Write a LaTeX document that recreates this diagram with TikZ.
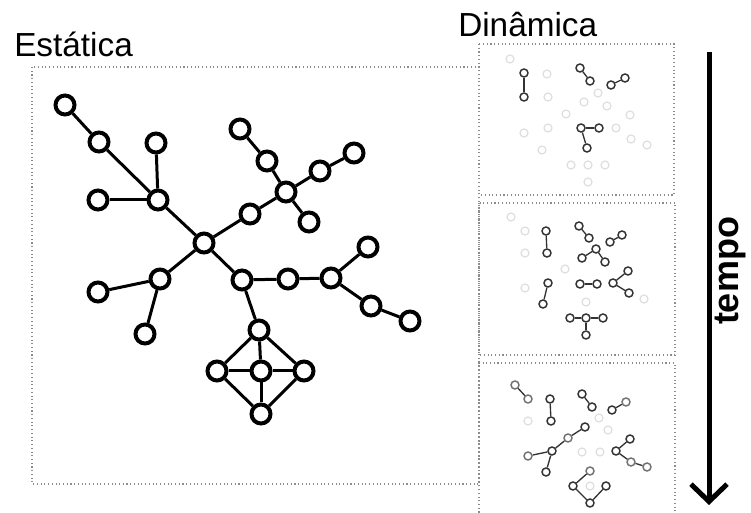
\documentclass[tikz,border=0pt]{standalone}
\usepackage{fontspec}
\setmainfont{Liberation Sans}
\usetikzlibrary{arrows.meta,positioning,shapes}

\begin{document}
\begin{tikzpicture}[
  x=0.75pt, y=-0.75pt,
  big/.style={circle, draw, fill=white, line width=3pt, minimum size=14.25pt, inner sep=0pt},
  small/.style={circle, draw=black!80, fill=white, line width=1.1pt, minimum size=6pt, inner sep=0pt},
  mid/.style={small, draw=black!55},
  ghost/.style={circle, draw=black!13, line width=0.9pt, minimum size=6pt, inner sep=0pt},
  thick edge/.style={draw, line width=2.25pt},
  thin edge/.style={draw=black!80, line width=1pt},
  frame/.style={draw=black!45, dotted, line width=0.8pt},
  title/.style={anchor=base west, inner sep=0pt, font=\fontsize{25}{30}\selectfont}
]
\useasboundingbox (0,0) rectangle (751,513);

% frames
\draw[frame] (32,67) rectangle (479,484);
\draw[frame] (479,44) rectangle (674,195);
\draw[frame] (479,203) rectangle (675,355);
\draw[frame] (479,520) -- (479,363) -- (675,363) -- (675,520);

\node[title] (lstat) at (14,57) {Estática};
\node[title] (ldyn) at (458,37) {Dinâmica};

% static network
\node[big] (a) at (65,105) {};
\node[big] (b) at (99,142) {};
\node[big] (c) at (156,143) {};
\node[big] (d) at (98,200) {};
\node[big] (e) at (158,200) {};
\node[big] (hub) at (204,243) {};
\node[big] (g) at (250,214) {};
\node[big] (h) at (240,129) {};
\node[big] (i) at (267,161) {};
\node[big] (j) at (286,192) {};
\node[big] (k) at (320,171) {};
\node[big] (l) at (354,153) {};
\node[big] (m) at (309,222) {};
\node[big] (n) at (242,280) {};
\node[big] (o) at (288,279) {};
\node[big] (p) at (331,278) {};
\node[big] (q) at (368,247) {};
\node[big] (r) at (371,306) {};
\node[big] (s) at (410,321) {};
\node[big] (y) at (98,292) {};
\node[big] (z) at (160,279) {};
\node[big] (aa) at (145,334) {};
\node[big] (top) at (259,330) {};
\node[big] (left) at (217,371) {};
\node[big] (mid) at (261,371) {};
\node[big] (right) at (304,371) {};
\node[big] (bot) at (261,414) {};

\foreach \u/\v in {a/b, b/e, c/e, d/e, e/hub, hub/g, g/j, j/i, i/h, j/k, k/l, j/m,
  hub/z, z/y, z/aa, hub/n, n/o, o/p, p/q, p/r, r/s, n/top,
  top/left, top/mid, top/right, left/mid, mid/right, left/bot, mid/bot, right/bot}
  \path[thick edge] (\u) -- (\v);

% dynamic snapshots: inactive nodes
\foreach \px/\py [count=\k] in {510/59, 547/74, 548/97, 598/93, 584/102, 607/106,
  566/114, 630/115, 524/133, 548/128, 616/128, 631/139, 647/145, 542/150,
  571/165, 588/165, 605/165, 588/182,
  511/217, 525/231, 525/253, 565/269, 525/288, 586/302, 644/299,
  528/421, 599/418, 608/430, 582/452, 600/452, 590/486}
  \node[ghost] (off\k) at (\px,\py) {};

% snapshot 1
\node[small] (u1) at (524,73) {};
\node[small] (u2) at (524,97) {};
\node[small] (u3) at (580,68) {};
\node[small] (u4) at (590,81) {};
\node[small] (u5) at (611,85) {};
\node[small] (u6) at (625,78) {};
\node[small] (u7) at (581,128) {};
\node[small] (u8) at (599,128) {};
\node[small] (u9) at (587,148) {};
\foreach \u/\v in {u1/u2, u3/u4, u5/u6, u7/u8, u7/u9}
  \path[thin edge] (\u) -- (\v);

% snapshot 2
\node[small] (v1) at (546,231) {};
\node[small] (v2) at (547,253) {};
\node[small] (v3) at (579,226) {};
\node[small] (v4) at (589,238) {};
\node[small] (v5) at (610,242) {};
\node[small] (v6) at (622,235) {};
\node[small] (v7) at (582,258) {};
\node[small] (v8) at (596,249) {};
\node[small] (v9) at (605,262) {};
\node[small] (v10) at (548,283) {};
\node[small] (v11) at (543,304) {};
\node[small] (v12) at (580,284) {};
\node[small] (v13) at (597,284) {};
\node[small] (v14) at (613,283) {};
\node[small] (v15) at (628,271) {};
\node[small] (v16) at (629,293) {};
\node[small] (v17) at (570,318) {};
\node[small] (v18) at (586,318) {};
\node[small] (v19) at (603,318) {};
\node[small] (v20) at (586,335) {};
\foreach \u/\v in {v1/v2, v3/v4, v5/v6, v7/v8, v8/v9, v10/v11, v12/v13,
  v14/v15, v14/v16, v17/v18, v18/v19, v18/v20}
  \path[thin edge] (\u) -- (\v);

% snapshot 3
\node[mid] (w1) at (515,385) {};
\node[mid] (w2) at (528,399) {};
\node[small] (w3) at (550,399) {};
\node[small] (w4) at (551,421) {};
\node[small] (w5) at (582,394) {};
\node[small] (w6) at (592,407) {};
\node[small] (w7) at (612,410) {};
\node[mid] (w8) at (626,402) {};
\node[mid] (w9) at (528,456) {};
\node[small] (w10) at (552,451) {};
\node[mid] (w11) at (568,438) {};
\node[small] (w12) at (585,427) {};
\node[small] (w13) at (546,472) {};
\node[small] (w14) at (616,451) {};
\node[small] (w15) at (630,439) {};
\node[mid] (w16) at (631,462) {};
\node[mid] (w17) at (647,467) {};
\node[mid] (w18) at (590,471) {};
\node[small] (w19) at (573,486) {};
\node[small] (w20) at (590,503) {};
\node[small] (w21) at (606,486) {};
\foreach \u/\v in {w1/w2, w3/w4, w5/w6, w7/w8, w9/w10, w10/w11, w11/w12,
  w10/w13, w14/w15, w14/w16, w16/w17, w18/w19, w19/w20, w20/w21}
  \path[thin edge] (\u) -- (\v);

% time axis
\coordinate (tstart) at (709,52);
\coordinate (tend) at (709,505);
\draw[line width=3.75pt, -{Straight Barb[length=13pt, width=27pt]}] (tstart) -- (tend);
\node[rotate=90, inner sep=0pt, font=\bfseries\fontsize{27}{32}\selectfont] (ltime) at (730,271) {tempo};

\end{tikzpicture}
\end{document}
